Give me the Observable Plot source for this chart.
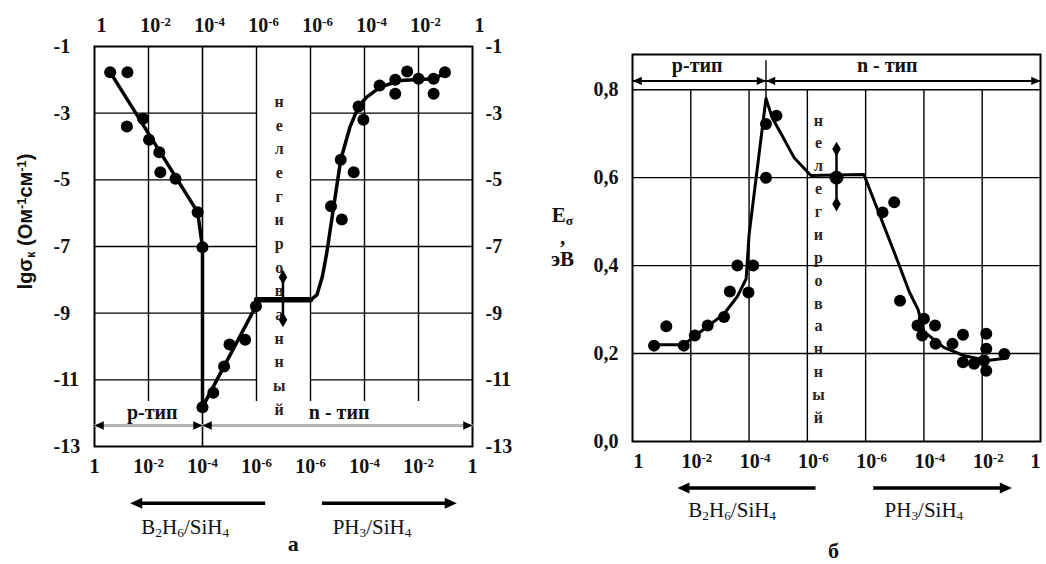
<!DOCTYPE html>
<html><head><meta charset="utf-8">
<script src="https://cdn.jsdelivr.net/npm/d3@7"></script>
<script src="https://cdn.jsdelivr.net/npm/@observablehq/plot@0.6"></script>
<style>
html,body{margin:0;padding:0;background:#fff;}
#wrap{position:relative;width:1046px;height:564px;overflow:hidden;}
#pa{position:absolute;left:0;top:0;}
#pb{position:absolute;left:523px;top:0;}
svg{overflow:visible;}
</style></head>
<body><div id="wrap"><div id="pa"></div><div id="pb"></div></div>
<script>
// ---------- shared x axis: gas ratio, position index 0..7 ----------
const xTickPos = [0, 1, 2, 3, 4, 5, 6, 7];
const xTickLabels = ["1", "10^{-2}", "10^{-4}", "10^{-6}", "10^{-6}", "10^{-4}", "10^{-2}", "1"];
const undopedWord = "нелегированный";
const typeLabels = ["р-тип", "n - тип"];
const gasLabels = ["B_{2}H_{6}/SiH_{4}", "PH_{3}/SiH_{4}"];

// ---------- panel а : lg sigma ----------
const aYTicks = [-1, -3, -5, -7, -9, -11, -13];
const aGridY = [-3, -5, -7, -9, -11];
const aGridXShort = [1, 3, 4, 5, 6];
const aGridShortBottom = -11.65;
const aDividerX = 2;
const aDotX = [0.29, 0.61, 0.60, 0.90, 1.01, 1.20, 1.22, 1.50, 1.91, 2.00, 2.00, 2.20, 2.40, 2.50, 2.79, 2.99,
               4.38, 4.58, 4.56, 4.80, 4.89, 4.98, 5.28, 5.57, 5.57, 5.79, 6.00, 6.28, 6.28, 6.49];
const aDotY = [-1.77, -1.77, -3.40, -3.17, -3.80, -4.17, -4.77, -4.97, -5.97, -7.02, -11.82, -11.39, -10.60, -9.94, -9.80, -8.79,
               -5.79, -6.19, -4.40, -4.77, -2.80, -3.20, -2.17, -2.00, -2.42, -1.75, -1.97, -1.97, -2.42, -1.77];
const aCurveX = [0.29, 1.91, 2.00, 2.00, 2.99, 3.08, 4.00, 4.12, 4.22, 4.30, 4.56, 4.73, 4.89, 5.04, 5.29, 5.66, 6.28, 6.49];
const aCurveY = [-1.77, -5.97, -7.02, -11.82, -8.79, -8.60, -8.60, -8.45, -7.90, -7.20, -4.40, -3.42, -2.80, -2.52, -2.22, -2.02, -1.97, -1.80];
const aPlateauX = [3.0, 4.0];
const aPlateauY = -8.6;
const aUndopedX = 3.49, aUndopedLo = -9.2, aUndopedHi = -7.92;
const aWordX = 3.42, aWordY = -7.2;
const aBandY = -12.37, aBandLabelY = -11.98, aBandLabelX = [1.07, 4.53];
const aBandArrows = [[0, 2], [2, 7]];
const aGasArrowY = -14.70, aGasArrowFrom = [3.16, 4.21], aGasArrowTip = [0.66, 6.71];
const aGasLabelX = [1.68, 5.14], aGasLabelY = -15.43;
const aPanelLetter = "а", aPanelLetterX = 3.68, aPanelLetterY = -15.91;
const aYLabel = "lgσ_{к} (Ом^{-1}см^{-1})", aYLabelY = -6.25;

// ---------- panel б : activation energy ----------
const bYTicks = [0, 0.2, 0.4, 0.6, 0.8];
const bGridY = [0.2, 0.4, 0.6, 0.8];
const bGridX = [1, 2, 3, 4, 5, 6];
const bDotX = [0.37, 0.58, 0.88, 1.07, 1.29, 1.57, 1.67, 1.80, 1.99, 2.07, 2.29, 2.29, 2.47,
               4.29, 4.49, 4.59, 4.89, 5.00, 4.97, 5.19, 5.20, 5.49, 5.67, 5.67, 5.86, 6.07, 6.07, 6.07, 6.03, 6.38];
const bDotY = [0.218, 0.262, 0.218, 0.241, 0.264, 0.283, 0.341, 0.400, 0.339, 0.400, 0.600, 0.722, 0.741,
               0.521, 0.544, 0.320, 0.264, 0.279, 0.241, 0.264, 0.222, 0.222, 0.243, 0.180, 0.177, 0.245, 0.211, 0.161, 0.184, 0.199];
const bCurveX = [0.37, 0.88, 1.07, 1.29, 1.57, 1.80, 1.95, 2.00, 2.29, 2.40, 2.55, 2.77, 3.06, 3.97, 4.55, 4.75, 4.90, 5.00, 5.34, 5.69, 6.09, 6.43];
const bCurveY = [0.220, 0.220, 0.240, 0.262, 0.290, 0.330, 0.370, 0.470, 0.780, 0.735, 0.700, 0.646, 0.605, 0.607, 0.410, 0.340, 0.300, 0.250, 0.214, 0.195, 0.184, 0.190];
const bUndopedX = 3.5, bUndopedMid = 0.60, bUndopedLo = 0.54, bUndopedHi = 0.665;
const bWordX = 3.19, bWordY = 0.397;
const bTop = 0.88;
const bDividerX = 2.29, bDividerLo = 0.78, bDividerHi = 0.866;
const bBandY = 0.82, bBandLabelY = 0.855, bBandLabelX = [1.11, 4.37];
const bBandArrows = [[0, 2.29], [2.29, 7]];
const bGasArrowY = -0.106, bGasArrowFrom = [3.14, 4.13], bGasArrowTip = [0.77, 6.51];
const bGasLabelX = [1.71, 5.0], bGasLabelY = -0.157;
const bPanelLetter = "б", bPanelLetterX = 3.45, bPanelLetterY = -0.248;
const bYLabel = "E_{σ}\n,\nэВ", bYLabelY = 0.466;

// ---------- helpers ----------
const serif = "'Liberation Serif','Times New Roman',serif";
const sans = "'Liberation Sans',Arial,sans-serif";
const ink = "#111";
const tickFont = {fontSize: 20, fontWeight: "bold", fontFamily: serif};
function triSymbol(dir, len, half) {
  return {draw(ctx, size) {
    const k = Math.sqrt(size / Math.PI) / 5;
    ctx.moveTo(0, 0);
    ctx.lineTo(-dir * len * k, -half * k);
    ctx.lineTo(-dir * len * k, half * k);
    ctx.closePath();
  }};
}
const triRight = triSymbol(1, 11, 5);
const triLeft = triSymbol(-1, 11, 5);
const rows = (xs, ys) => xs.map((x, i) => ({x, y: Array.isArray(ys) ? ys[i] : ys}));

function richify(svg) {
  d3.select(svg).selectAll("text, tspan").each(function () {
    if (this.children.length) return;
    const s = this.textContent;
    if (!/[_^]\{/.test(s)) return;
    this.textContent = "";
    const re = /([_^])\{([^}]*)\}/g; let last = 0, m;
    while ((m = re.exec(s))) {
      if (m.index > last) this.appendChild(document.createTextNode(s.slice(last, m.index)));
      const t = document.createElementNS("http://www.w3.org/2000/svg", "tspan");
      t.setAttribute("font-size", "64%");
      t.setAttribute("baseline-shift", m[1] === "^" ? "48%" : "-22%");
      t.textContent = m[2];
      this.appendChild(t);
      last = re.lastIndex;
    }
    if (last < s.length) this.appendChild(document.createTextNode(s.slice(last)));
  });
  return svg;
}

function bandMarks(arrows, y, stroke, sw, labelX, labelY) {
  const heads = [];
  arrows.forEach(([a, b]) => { heads.push({x: a, y, s: "L"}); heads.push({x: b, y, s: "R"}); });
  return [
    Plot.link(arrows, {x1: d => d[0], x2: d => d[1], y1: y, y2: y, stroke, strokeWidth: sw}),
    Plot.dot(heads.filter(d => d.s === "L"), {x: "x", y: "y", symbol: triLeft, r: 4.2, fill: "#000", stroke: "none"}),
    Plot.dot(heads.filter(d => d.s === "R"), {x: "x", y: "y", symbol: triRight, r: 4.2, fill: "#000", stroke: "none"}),
    Plot.text(typeLabels, {x: (d, i) => labelX[i], y: labelY, fontFamily: serif, fontWeight: "bold", fontSize: 20, fill: ink})
  ];
}
function gasMarks(from, tip, y, labelX, labelY) {
  const seg = from.map((f, i) => ({f, t: tip[i]}));
  return [
    Plot.link(seg, {x1: "f", x2: d => d.t + (d.t < d.f ? 0.15 : -0.15), y1: y, y2: y, stroke: "#000", strokeWidth: 3.5}),
    Plot.dot([seg[0]], {x: "t", y, symbol: triLeft, r: 5.5, fill: "#000", stroke: "none"}),
    Plot.dot([seg[1]], {x: "t", y, symbol: triRight, r: 5.5, fill: "#000", stroke: "none"}),
    Plot.text(gasLabels, {x: (d, i) => labelX[i], y: labelY, fontFamily: serif, fontSize: 21, fill: ink})
  ];
}
const wordText = undopedWord.split("").join("\n");
const fmtX = d => xTickLabels[d];

// ---------- panel а ----------
const A = Plot.plot({
  width: 523, height: 564,
  marginLeft: 94, marginRight: 51, marginTop: 46, marginBottom: 118,
  x: {domain: [0, 7]},
  y: {domain: [-13, -1]},
  style: {fontFamily: serif, color: ink, background: "#fff"},
  marks: [
    Plot.ruleY(aGridY, {x1: 0, x2: 3, stroke: "#000", strokeWidth: 1.4}),
    Plot.ruleY(aGridY, {x1: 4, x2: 7, stroke: "#000", strokeWidth: 1.4}),
    Plot.ruleX(aGridXShort, {y1: aGridShortBottom, y2: -1, stroke: "#000", strokeWidth: 1.4}),
    Plot.ruleX([aDividerX], {y1: -13, y2: -1, stroke: "#000", strokeWidth: 1.6}),
    Plot.frame({stroke: "#000", strokeWidth: 2}),
    ...bandMarks(aBandArrows, aBandY, "#b5b5b5", 3, aBandLabelX, aBandLabelY),
    Plot.text([wordText], {x: aWordX, y: aWordY, fontFamily: serif, fontWeight: "bold", fontSize: 16, lineHeight: 1.48, fill: "#2a2320"}),
    Plot.line(rows(aCurveX, aCurveY), {x: "x", y: "y", stroke: "#000", strokeWidth: 3.5, strokeLinejoin: "round"}),
    Plot.line(rows(aPlateauX, aPlateauY), {x: "x", y: "y", stroke: "#000", strokeWidth: 5.5}),
    Plot.ruleX([aUndopedX], {y1: aUndopedLo, y2: aUndopedHi, stroke: "#000", strokeWidth: 2.5}),
    Plot.dot([aUndopedLo, aUndopedHi], {x: aUndopedX, y: d => d, symbol: "diamond", r: 4.5, fill: "#000"}),
    Plot.dot(rows(aDotX, aDotY), {x: "x", y: "y", r: 6, fill: "#000", stroke: "none"}),
    Plot.axisX({anchor: "bottom", ticks: xTickPos, tickFormat: fmtX, tickSize: 0, tickPadding: 12, label: null, ...tickFont}),
    Plot.axisX({anchor: "top", ticks: xTickPos, tickFormat: fmtX, tickSize: 0, tickPadding: 15, dx: 7, label: null, ...tickFont}),
    Plot.axisY({anchor: "left", ticks: aYTicks, tickFormat: d => String(d), tickSize: 0, tickPadding: 41, textAnchor: "start", label: null, ...tickFont}),
    Plot.axisY({anchor: "right", ticks: aYTicks, tickFormat: d => String(d), tickSize: 0, tickPadding: 13, label: null, ...tickFont}),
    Plot.text([aYLabel], {frameAnchor: "left", textAnchor: "middle", y: aYLabelY, dx: -69, rotate: -90, fontFamily: sans, fontWeight: "bold", fontSize: 20, fill: ink}),
    ...gasMarks(aGasArrowFrom, aGasArrowTip, aGasArrowY, aGasLabelX, aGasLabelY),
    Plot.text([aPanelLetter], {x: aPanelLetterX, y: aPanelLetterY, fontFamily: serif, fontWeight: "bold", fontSize: 22, fill: ink})
  ]
});
document.getElementById("pa").appendChild(richify(A));

// ---------- panel б ----------
const B = Plot.plot({
  width: 523, height: 564,
  marginLeft: 109, marginRight: 6, marginTop: 54, marginBottom: 123,
  x: {domain: [0, 7]},
  y: {domain: [0, bTop]},
  style: {fontFamily: serif, color: ink, background: "#fff"},
  marks: [
    Plot.ruleY(bGridY, {x1: 0, x2: 7, stroke: "#000", strokeWidth: 1.4}),
    Plot.ruleX(bGridX, {y1: 0, y2: 0.8, stroke: "#000", strokeWidth: 1.4}),
    Plot.frame({stroke: "#000", strokeWidth: 2}),
    Plot.ruleX([bDividerX], {y1: bDividerLo, y2: bDividerHi, stroke: "#000", strokeWidth: 1.4}),
    ...bandMarks(bBandArrows, bBandY, "#000", 2, bBandLabelX, bBandLabelY),
    Plot.text([wordText], {x: bWordX, y: bWordY, fontFamily: serif, fontWeight: "bold", fontSize: 16, lineHeight: 1.43, fill: "#2a2320"}),
    Plot.line(rows(bCurveX, bCurveY), {x: "x", y: "y", stroke: "#000", strokeWidth: 3, strokeLinejoin: "round"}),
    Plot.ruleX([bUndopedX], {y1: bUndopedLo, y2: bUndopedHi, stroke: "#000", strokeWidth: 2.5}),
    Plot.dot([bUndopedLo, bUndopedHi], {x: bUndopedX, y: d => d, symbol: "diamond", r: 4.5, fill: "#000"}),
    Plot.dot([bUndopedMid], {x: bUndopedX, y: d => d, r: 7, fill: "#000"}),
    Plot.dot(rows(bDotX, bDotY), {x: "x", y: "y", r: 6, fill: "#000", stroke: "none"}),
    Plot.axisX({anchor: "bottom", ticks: xTickPos.slice(0, 7), tickFormat: fmtX, tickSize: 0, tickPadding: 12, dx: 6, label: null, ...tickFont}),
    Plot.axisX({anchor: "bottom", ticks: xTickPos.slice(7), tickFormat: fmtX, tickSize: 0, tickPadding: 12, dx: -5, label: null, ...tickFont}),
    Plot.axisY({anchor: "left", ticks: bYTicks, tickFormat: d => d.toFixed(1).replace(".", ","), tickSize: 0, tickPadding: 14, label: null, ...tickFont}),
    Plot.text([bYLabel], {frameAnchor: "left", textAnchor: "middle", y: bYLabelY, dx: -70, lineHeight: 1.05, fontFamily: serif, fontWeight: "bold", fontSize: 21, fill: ink}),
    ...gasMarks(bGasArrowFrom, bGasArrowTip, bGasArrowY, bGasLabelX, bGasLabelY),
    Plot.text([bPanelLetter], {x: bPanelLetterX, y: bPanelLetterY, fontFamily: serif, fontWeight: "bold", fontSize: 22, fill: ink})
  ]
});
document.getElementById("pb").appendChild(richify(B));
</script>
</body></html>
